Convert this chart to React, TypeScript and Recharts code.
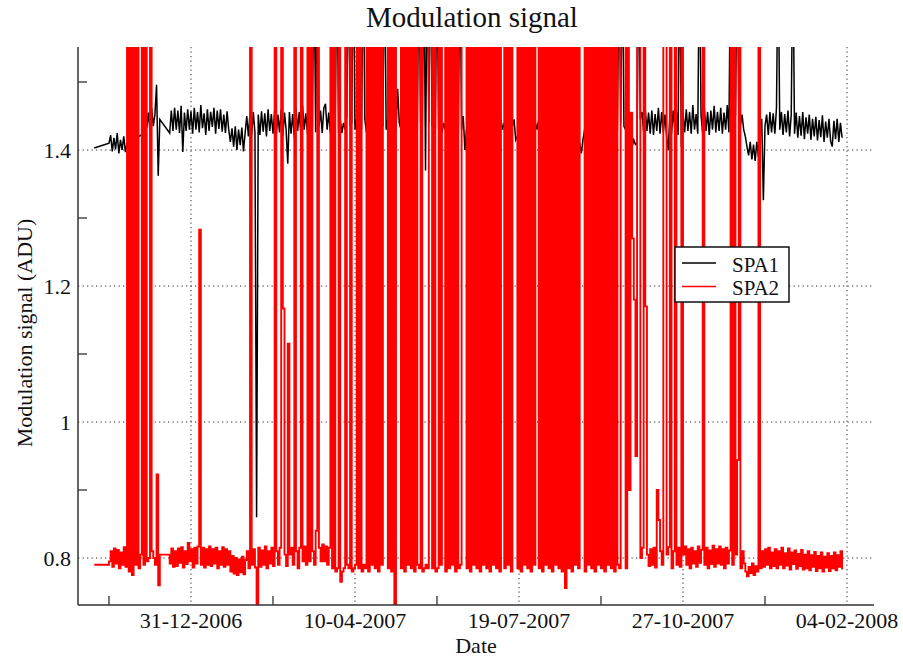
import React from 'react';
import { LineChart, Line, XAxis, YAxis, CartesianGrid } from 'recharts';

// one value per day, day 0 = 31-12-2006, first sample is day -59
const FIRST_DAY = -59;

const spa1 = [
  1.403, null, null, null, null, null, null, null, null, 1.41,
  1.422, 1.398, 1.418, 1.401, 1.425, 1.395, 1.415, 1.4, 1.42, 1.397,
  1.41, null, null, null, null, null, null, null, null, null,
  1.424, 1.46, 1.432, 1.455, 1.428, 1.462, 1.435, 1.452, 1.496, 1.362,
  1.445, null, null, null, null, null, 1.425, 1.458, 1.428, 1.462,
  1.43, 1.458, 1.425, 1.465, 1.397, 1.455, 1.428, 1.46, 1.43, 1.457,
  1.424, 1.462, 1.43, 1.456, 1.426, 1.466, 1.432, 1.454, 1.422, 1.46,
  1.428, 1.456, 1.434, 1.462, 1.424, 1.458, 1.431, 1.46, 1.427, 1.452,
  1.425, 1.457, 1.43, 1.412, 1.432, 1.405, 1.435, 1.4, 1.43, 1.407,
  1.433, 1.398, 1.425, 1.45, 1.42, 1.455, 1.422, 1.456, 1.425, 0.86,
  1.452, 1.422, 1.457, 1.427, 1.454, 1.42, 1.46, 1.428, 1.453, 1.424,
  1.458, 1.422, 1.452, 1.426, 1.46, 1.421, 1.455, 1.43, 1.38, 1.456,
  1.424, 1.453, 1.419, 1.463, 1.428, 1.456, 1.422, 1.466, 1.43, 1.454,
  1.424, 1.46, 1.7, 1.432, 1.7, 1.426, 1.7, 1.434, 1.458, 1.425,
  1.462, 1.468, 1.43, 1.455, 1.425, 1.452, 1.42, 1.45, 1.7, 1.425,
  1.445, 1.425, 1.44, 1.43, 1.45, 1.7, 1.435, 1.44, 1.7, 1.43,
  1.445, 1.42, 1.44, 1.43, 1.7, 1.445, 1.425, 1.44, 1.43, 1.45,
  1.43, 1.44, 1.425, 1.445, 1.43, 1.44, 1.435, 1.7, 1.43, 1.445,
  1.43, 1.44, 1.425, 1.44, 1.43, 1.49, 1.44, 1.43, 1.445, 1.425,
  1.44, 1.43, 1.445, 1.43, 1.44, 1.425, 1.44, 1.43, 1.7, 1.44,
  1.42, 1.7, 1.37, 1.7, 1.44, 1.7, 1.435, 1.44, 1.43, 1.7,
  1.43, 1.44, 1.425, 1.44, 1.43, 1.445, 1.43, 1.44, 1.435, 1.44,
  1.43, 1.44, 1.425, 1.7, 1.43, 1.45, 1.4, 1.43, 1.44, 1.435,
  1.44, 1.43, 1.445, 1.43, 1.44, 1.435, 1.44, 1.43, 1.445, 1.43,
  1.44, 1.43, 1.445, 1.43, 1.44, 1.435, 1.44, 1.43, 1.445, 1.43,
  1.44, 1.43, 1.445, 1.43, 1.44, 1.435, 1.445, 1.415, 1.42, 1.425,
  1.43, 1.44, 1.435, 1.44, 1.43, 1.445, 1.43, 1.44, 1.435, 1.44,
  1.43, 1.445, 1.43, 1.44, 1.435, 1.44, 1.43, 1.445, 1.43, 1.44,
  1.435, 1.44, 1.43, 1.445, 1.43, 1.44, 1.435, 1.44, 1.43, 1.445,
  1.43, 1.44, 1.435, 1.44, 1.43, 1.42, 1.41, 1.395, 1.415, 1.43,
  1.44, 1.43, 1.445, 1.43, 1.44, 1.435, 1.44, 1.43, 1.445, 1.43,
  1.44, 1.435, 1.44, 1.43, 1.445, 1.43, 1.44, 1.435, 1.44, 1.43,
  1.7, 1.44, 1.7, 1.435, 1.43, 1.44, 1.415, 1.425, 1.405, 1.415,
  1.408, 1.41, 1.7, 1.445, 1.456, 1.425, 1.46, 1.428, 1.455, 1.424,
  1.458, 1.422, 1.453, 1.428, 1.462, 1.424, 1.456, 1.426, 1.452, 1.42,
  1.4, 1.452, 1.424, 1.458, 1.43, 1.456, 1.422, 1.7, 1.405, 1.455,
  1.426, 1.46, 1.428, 1.456, 1.424, 1.466, 1.43, 1.453, 1.424, 1.7,
  1.452, 1.424, 1.462, 1.428, 1.456, 1.422, 1.458, 1.43, 1.465, 1.426,
  1.456, 1.428, 1.462, 1.424, 1.455, 1.43, 1.466, 1.426, 1.7, 1.446,
  1.7, 1.45, 1.7, 1.456, 1.436, 1.452, 1.43, 1.42, 1.405, 1.392,
  1.412, 1.386, 1.408, 1.384, 1.412, 1.39, 1.43, 1.446, 1.326, 1.436,
  1.452, 1.422, 1.456, 1.426, 1.454, 1.424, 1.462, 1.7, 1.43, 1.456,
  1.422, 1.453, 1.426, 1.458, 1.42, 1.452, 1.7, 1.424, 1.455, 1.418,
  1.45, 1.421, 1.456, 1.416, 1.448, 1.424, 1.452, 1.415, 1.446, 1.42,
  1.449, 1.414, 1.444, 1.419, 1.451, 1.412, 1.442, 1.418, 1.446, 1.413,
  1.405, 1.443, 1.416, 1.446, 1.412, 1.44, 1.418,
];

// 1.7 = above the top of the plot
const spa2 = [
  0.79, null, null, null, null, null, null, null, null, 0.795,
  0.81, 0.787, 0.814, 0.792, 0.812, 0.785, 0.808, 0.79, 0.816, 0.787,
  1.7, 0.78, 1.7, 0.775, 1.7, 0.79, 1.7, 0.785, 0.805, 1.7,
  0.79, 1.7, 0.795, 0.8, 1.7, 0.81, 0.8, 0.79, 0.923, 0.76,
  0.805, null, null, null, null, null, 0.792, 0.814, 0.787, 0.81,
  0.788, 0.814, 0.793, 0.816, 0.786, 0.81, 0.791, 0.822, 0.795, 0.813,
  0.786, 0.815, 0.792, 0.817, 1.283, 0.79, 0.815, 0.786, 0.813, 0.79,
  0.817, 0.788, 0.813, 0.792, 0.815, 0.785, 0.81, 0.79, 0.816, 0.787,
  0.813, 0.79, 0.81, 0.78, 0.803, 0.777, 0.8, 0.775, 0.798, 0.779,
  0.802, 0.776, 0.797, 0.81, 0.785, 1.7, 0.79, 0.813, 0.786, 0.7,
  0.815, 0.787, 0.811, 0.79, 0.817, 0.785, 0.81, 0.792, 0.815, 0.788,
  1.7, 0.81, 0.79, 0.815, 1.7, 1.167, 0.805, 0.788, 1.115, 0.805,
  0.815, 0.79, 1.7, 0.81, 0.785, 0.815, 1.7, 0.795, 0.817, 0.79,
  1.7, 0.795, 1.7, 0.81, 0.79, 0.84, 1.7, 0.815, 0.795, 0.82,
  0.795, 0.817, 0.79, 0.815, 1.7, 0.785, 1.7, 0.78, 0.785, 1.7,
  0.765, 0.78, 0.785, 1.7, 0.79, 0.785, 1.7, 0.78, 0.785, 0.79,
  1.7, 0.785, 1.7, 0.78, 0.79, 0.785, 1.7, 0.78, 1.7, 0.79,
  1.7, 0.785, 1.7, 0.78, 1.7, 0.79, 1.7, 1.7, 1.7, 0.785,
  1.7, 0.78, 1.7, 0.7, 1.7, 1.7, 1.7, 0.785, 1.7, 0.78,
  1.7, 0.79, 1.7, 0.785, 1.7, 0.78, 1.7, 0.79, 0.785, 1.7,
  0.78, 0.785, 0.79, 0.785, 1.7, 1.7, 0.785, 1.7, 0.78, 0.785,
  1.7, 0.79, 1.7, 1.7, 0.78, 1.7, 0.785, 1.7, 0.79, 1.7,
  0.78, 1.7, 0.785, 0.79, 1.7, 1.7, 1.7, 0.785, 1.7, 0.78,
  1.7, 0.79, 1.7, 0.785, 1.7, 0.78, 1.7, 0.79, 1.7, 0.785,
  1.7, 0.78, 1.7, 0.79, 1.7, 0.785, 1.7, 0.78, 1.7, 1.7,
  0.785, 1.7, 0.79, 1.7, 0.78, 1.7, 1.7, 1.7, 0.785, 1.7,
  0.78, 1.7, 0.79, 1.7, 0.785, 1.7, 0.78, 1.7, 0.79, 1.7,
  1.7, 0.785, 1.7, 0.78, 1.7, 0.79, 1.7, 0.785, 1.7, 0.78,
  1.7, 0.79, 1.7, 0.785, 1.7, 0.78, 1.7, 0.756, 1.7, 0.785,
  1.7, 0.78, 1.7, 0.79, 1.7, 0.785, 1.7, 1.7, 1.7, 0.78,
  1.7, 0.79, 1.7, 0.785, 1.7, 0.78, 1.7, 0.79, 1.7, 0.785,
  1.7, 0.78, 1.7, 0.79, 1.7, 0.785, 1.7, 0.78, 1.7, 0.79,
  0.785, 1.7, 1.7, 1.7, 0.785, 1.7, 0.9, 1.455, 1.27, 1.18,
  0.95, 1.7, 1.7, 0.8, 0.815, 1.7, 1.17, 0.805, 0.788, 0.813,
  0.79, 0.815, 0.786, 0.9, 0.856, 0.81, 0.79, 1.7, 1.7, 0.805,
  0.816, 1.7, 0.785, 0.81, 1.7, 0.79, 0.815, 0.787, 1.7, 0.805,
  0.817, 0.79, 0.813, 0.785, 0.815, 0.792, 0.81, 0.787, 0.817, 0.793,
  0.812, 1.7, 0.79, 0.815, 0.785, 0.811, 0.791, 0.818, 0.787, 0.813,
  0.792, 0.817, 0.79, 0.813, 0.785, 0.815, 0.792, 0.811, 1.7, 0.79,
  1.7, 0.805, 0.944, 1.7, 0.785, 0.81, 0.792, 0.78, 0.773, 0.787,
  0.778, 0.792, 0.775, 0.788, 0.78, 1.7, 0.785, 0.81, 0.787, 0.813,
  0.79, 0.815, 0.785, 0.808, 0.788, 0.813, 0.785, 0.81, 0.79, 0.815,
  0.785, 0.807, 0.789, 0.814, 0.783, 0.808, 0.791, 0.811, 0.784, 0.806,
  0.788, 0.812, 0.783, 0.805, 0.785, 0.81, 0.782, 0.804, 0.787, 0.809,
  0.781, 0.803, 0.785, 0.808, 0.78, 0.802, 0.786, 0.807, 0.781, 0.803,
  0.785, 0.808, 0.782, 0.804, 0.787, 0.81, 0.783,
];

const xMajorDays = [0, 100, 200, 300, 400];
const xMajorLabels = ['31-12-2006', '10-04-2007', '19-07-2007', '27-10-2007', '04-02-2008'];
const xMinorDays = [-50, 50, 150, 250, 350];
const yMajorValues = [0.8, 1, 1.2, 1.4];
const yMajorLabels = ['0.8', '1', '1.2', '1.4'];
const yMinorValues = [0.9, 1.1, 1.3, 1.5];

const series = [
  { key: 'spa1', name: 'SPA1', color: '#000000', type: 'linear', width: 1.5 },
  { key: 'spa2', name: 'SPA2', color: '#ff0000', type: 'stepAfter', width: 1.9 },
];

// body margin is removed, so these are page pixels
const W = 903;
const H = 659;
const FONT = '"Liberation Serif", "Times New Roman", serif';
const FRAME = '#333';
const TICK = 9;
const X_DOMAIN = [-68.9, 416.46];
const Y_DOMAIN = [0.7309, 1.5515];

const data = spa1.map((v, i) => ({ day: FIRST_DAY + i, spa1: v, spa2: spa2[i] }));
const xTicks = [...xMinorDays, ...xMajorDays].sort((a, b) => a - b);
const yTicks = [...yMinorValues, ...yMajorValues].sort((a, b) => a - b);

function BottomTick({ x, y, payload }: any) {
  const i = xMajorDays.indexOf(payload.value);
  if (i < 0) return <line x1={x} x2={x} y1={y} y2={y - TICK} stroke={FRAME} strokeWidth={1.3} />;
  return (
    <text x={x} y={y + 23} textAnchor="middle" fontFamily={FONT} fontSize={22} fill="#111">
      {xMajorLabels[i]}
    </text>
  );
}

function TopTick({ x, y }: any) {
  return <line x1={x} x2={x} y1={y} y2={y + TICK} stroke={FRAME} strokeWidth={1.3} />;
}

function LeftTick({ x, y, payload }: any) {
  const i = yMajorValues.indexOf(payload.value);
  if (i < 0) return <line x1={x + 7} x2={x + 7 + TICK} y1={y} y2={y} stroke={FRAME} strokeWidth={1.3} />;
  return (
    <text x={x} y={y + 7.5} textAnchor="end" fontFamily={FONT} fontSize={22} fill="#111">
      {yMajorLabels[i]}
    </text>
  );
}

function RightTick({ x, y }: any) {
  return <line x1={x - TICK} x2={x} y1={y} y2={y} stroke={FRAME} strokeWidth={1.3} />;
}

export default function App() {
  const axisLine = { stroke: FRAME, strokeWidth: 1.5 };
  return (
    <div style={{ position: 'relative', width: W, height: H }}>
      <style>{'html, body { margin: 0; padding: 0; overflow: hidden; }'}</style>
      <LineChart width={W} height={H} data={data} margin={{ top: 47, right: 29, bottom: 0, left: 0 }}>
        <CartesianGrid
          horizontalValues={yMajorValues}
          verticalValues={xMajorDays}
          stroke="#333"
          strokeDasharray="1.3 3.2"
        />
        <XAxis
          dataKey="day"
          type="number"
          domain={X_DOMAIN}
          allowDataOverflow
          ticks={xTicks}
          interval={0}
          height={54}
          tickSize={0}
          tickMargin={0}
          tickLine={false}
          axisLine={axisLine}
          tick={<BottomTick />}
        />
        <XAxis
          xAxisId="top"
          orientation="top"
          type="number"
          domain={X_DOMAIN}
          allowDataOverflow
          ticks={xMinorDays}
          interval={0}
          height={0}
          tickSize={0}
          tickMargin={0}
          tickLine={false}
          axisLine={axisLine}
          tick={<TopTick />}
        />
        <YAxis
          type="number"
          domain={Y_DOMAIN}
          allowDataOverflow
          ticks={yTicks}
          interval={0}
          width={78}
          tickSize={0}
          tickMargin={7}
          tickLine={false}
          axisLine={axisLine}
          tick={<LeftTick />}
        />
        <YAxis
          yAxisId="right"
          orientation="right"
          type="number"
          domain={Y_DOMAIN}
          allowDataOverflow
          ticks={yMinorValues}
          interval={0}
          width={0}
          tickSize={0}
          tickMargin={0}
          tickLine={false}
          axisLine={axisLine}
          tick={<RightTick />}
        />
        {series.map(s => (
          <Line
            key={s.key}
            dataKey={s.key}
            name={s.name}
            type={s.type as any}
            stroke={s.color}
            strokeWidth={s.width}
            dot={false}
            activeDot={false}
            connectNulls
            isAnimationActive={false}
          />
        ))}
      </LineChart>

      {/* title, axis titles and legend */}
      <svg width={W} height={H} style={{ position: 'absolute', left: 0, top: 0, pointerEvents: 'none' }}>
        <text x={472} y={27} textAnchor="middle" fontFamily={FONT} fontSize={29} fill="#111">
          Modulation signal
        </text>
        <text
          transform="translate(31.5,333) rotate(-90)"
          textAnchor="middle"
          fontFamily={FONT}
          fontSize={22}
          fill="#111"
        >
          Modulation signal (ADU)
        </text>
        <text x={476} y={653} textAnchor="middle" fontFamily={FONT} fontSize={22} fill="#111">
          Date
        </text>
        <rect x={675} y={247} width={114} height={55} fill="#fff" stroke="#111" strokeWidth={1.5} />
        {series.map((s, i) => (
          <g key={s.key}>
            <line x1={682} x2={716} y1={263 + i * 23.5} y2={263 + i * 23.5} stroke={s.color} strokeWidth={1.3} />
            <text x={732} y={271.5 + i * 23.5} fontFamily={FONT} fontSize={21} fill="#111">
              {s.name}
            </text>
          </g>
        ))}
      </svg>
    </div>
  );
}
